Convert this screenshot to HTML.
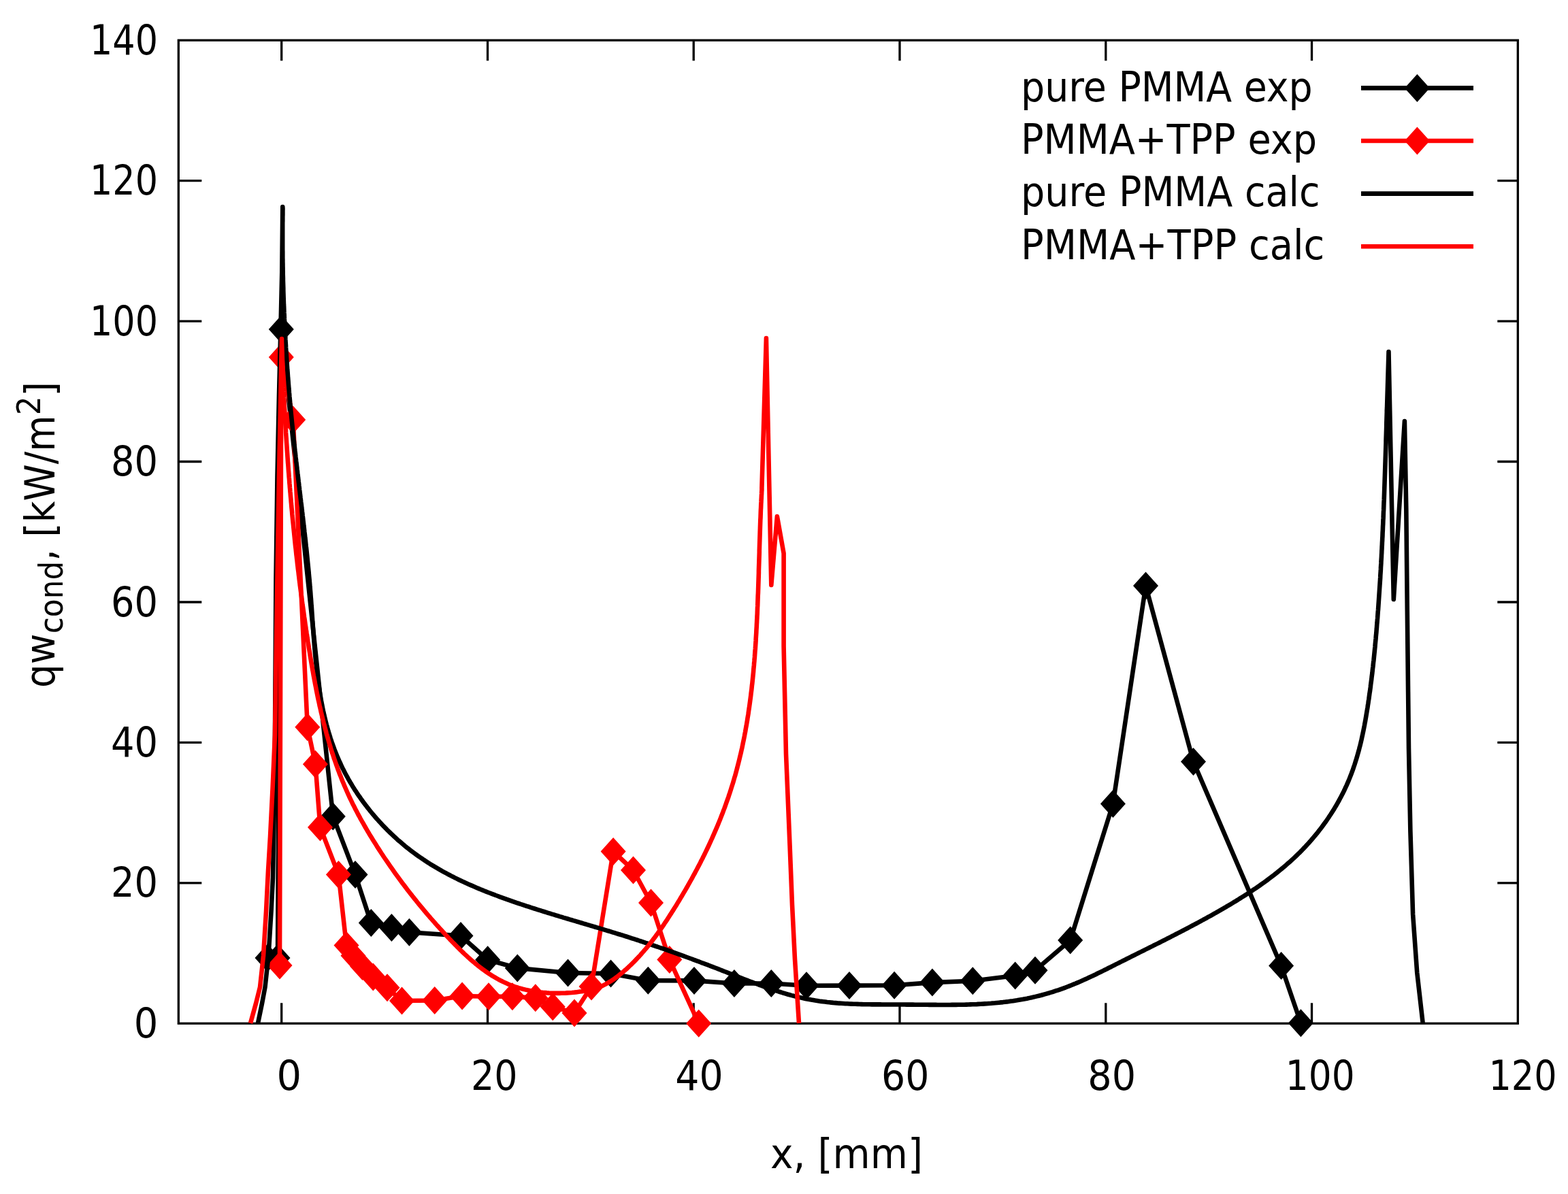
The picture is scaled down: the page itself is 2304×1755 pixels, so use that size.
<!DOCTYPE html>
<html><head><meta charset="utf-8"><title>qw cond vs x</title>
<style>html,body{margin:0;padding:0;background:#fff;overflow:hidden}svg{display:block}</style>
</head><body>
<svg width="2304" height="1755" viewBox="0 0 2304 1755">
<rect width="2304" height="1755" fill="#fff"/>
<path fill="none" stroke="#000" stroke-width="3.3" d="M413.7 1504.3v-30M413.7 59.2v30M716.5 1504.3v-30M716.5 59.2v30M1019.2 1504.3v-30M1019.2 59.2v30M1322 1504.3v-30M1322 59.2v30M1624.8 1504.3v-30M1624.8 59.2v30M1927.5 1504.3v-30M1927.5 59.2v30M262.3 1297.9h34M2230.3 1297.9h-30M262.3 1091.4h34M2230.3 1091.4h-30M262.3 885h34M2230.3 885h-30M262.3 678.5h34M2230.3 678.5h-30M262.3 472.1h34M2230.3 472.1h-30M262.3 265.6h34M2230.3 265.6h-30"/>
<rect x="262.3" y="59.2" width="1968" height="1445.1" fill="none" stroke="#000" stroke-width="3.3"/>
<g font-family="'DejaVu Sans','Liberation Sans',sans-serif" font-size="60" fill="#000"><text x="132" y="79.7" textLength="100" lengthAdjust="spacingAndGlyphs">140</text><text x="132" y="286.1" textLength="100" lengthAdjust="spacingAndGlyphs">120</text><text x="132" y="492.6" textLength="100" lengthAdjust="spacingAndGlyphs">100</text><text x="163" y="699" textLength="69" lengthAdjust="spacingAndGlyphs">80</text><text x="163" y="905.5" textLength="69" lengthAdjust="spacingAndGlyphs">60</text><text x="163" y="1111.9" textLength="69" lengthAdjust="spacingAndGlyphs">40</text><text x="163" y="1318.4" textLength="69" lengthAdjust="spacingAndGlyphs">20</text><text x="196.7" y="1524.8" textLength="35.6" lengthAdjust="spacingAndGlyphs">0</text><text x="406.4" y="1602" textLength="36.6" lengthAdjust="spacingAndGlyphs">0</text><text x="692" y="1602" textLength="68.5" lengthAdjust="spacingAndGlyphs">20</text><text x="992.3" y="1602" textLength="70.3" lengthAdjust="spacingAndGlyphs">40</text><text x="1295" y="1602" textLength="70.4" lengthAdjust="spacingAndGlyphs">60</text><text x="1598.3" y="1602" textLength="70.7" lengthAdjust="spacingAndGlyphs">80</text><text x="1888.8" y="1602" textLength="101.8" lengthAdjust="spacingAndGlyphs">100</text><text x="2187.4" y="1602" textLength="100.2" lengthAdjust="spacingAndGlyphs">120</text><text x="1132" y="1717" textLength="224" lengthAdjust="spacingAndGlyphs">x, [mm]</text><text transform="translate(80 1011) rotate(-90)" textLength="450" lengthAdjust="spacingAndGlyphs">qw<tspan font-size="48" dy="11.5">cond</tspan><tspan dy="-11.5">, [kW/m</tspan><tspan font-size="48" dy="-21.5">2</tspan><tspan dy="21.5">]</tspan></text><text x="1500" y="149.2" textLength="428.7" lengthAdjust="spacingAndGlyphs">pure PMMA exp</text><text x="1500" y="226.3" textLength="435" lengthAdjust="spacingAndGlyphs">PMMA+TPP exp</text><text x="1500" y="303.4" textLength="439.5" lengthAdjust="spacingAndGlyphs">pure PMMA calc</text><text x="1500" y="380.5" textLength="446.4" lengthAdjust="spacingAndGlyphs">PMMA+TPP calc</text></g>
<path fill="none" stroke="#000" stroke-width="6.6" d="M2000 129.4H2165M2000 284.6H2165"/>
<path fill="none" stroke="#ff0000" stroke-width="6.6" d="M2000 207H2165M2000 362.2H2165"/>
<path fill="#000000" d="M2082.4 108.9l18.5 20.5l-18.5 20.5l-18.5 -20.5z"/>
<path fill="#ff0000" d="M2082.4 186.5l18.5 20.5l-18.5 20.5l-18.5 -20.5z"/>
<g fill="none" stroke-width="6.6" stroke-linejoin="miter" stroke-miterlimit="3">
<polyline stroke="#000" points="393,1408 408,1408 413.3,484 489.3,1200 522,1285.4 545.3,1356.6 575.4,1363.4 601.4,1370.3 677,1375.5 716.6,1410.7 760.3,1422.9 834.5,1430 897.5,1431 952.3,1441.3 1020,1441.4 1078.9,1445.5 1133.3,1445.5 1185,1448.8 1248,1448.6 1314.1,1448.2 1369.9,1444.1 1429.3,1441.7 1491.7,1434 1521,1426.3 1572.7,1382 1635.4,1181.4 1683.5,861.1 1753.5,1119.5 1882.6,1419.6 1911.4,1503.8"/>
</g>
<path fill="#000000" d="M393 1387.5l18.5 20.5l-18.5 20.5l-18.5 -20.5zM408 1387.5l18.5 20.5l-18.5 20.5l-18.5 -20.5zM413.3 463.5l18.5 20.5l-18.5 20.5l-18.5 -20.5zM489.3 1179.5l18.5 20.5l-18.5 20.5l-18.5 -20.5zM522 1264.9l18.5 20.5l-18.5 20.5l-18.5 -20.5zM545.3 1336.1l18.5 20.5l-18.5 20.5l-18.5 -20.5zM575.4 1342.9l18.5 20.5l-18.5 20.5l-18.5 -20.5zM601.4 1349.8l18.5 20.5l-18.5 20.5l-18.5 -20.5zM677 1355l18.5 20.5l-18.5 20.5l-18.5 -20.5zM716.6 1390.2l18.5 20.5l-18.5 20.5l-18.5 -20.5zM760.3 1402.4l18.5 20.5l-18.5 20.5l-18.5 -20.5zM834.5 1409.5l18.5 20.5l-18.5 20.5l-18.5 -20.5zM897.5 1410.5l18.5 20.5l-18.5 20.5l-18.5 -20.5zM952.3 1420.8l18.5 20.5l-18.5 20.5l-18.5 -20.5zM1020 1420.9l18.5 20.5l-18.5 20.5l-18.5 -20.5zM1078.9 1425l18.5 20.5l-18.5 20.5l-18.5 -20.5zM1133.3 1425l18.5 20.5l-18.5 20.5l-18.5 -20.5zM1185 1428.3l18.5 20.5l-18.5 20.5l-18.5 -20.5zM1248 1428.1l18.5 20.5l-18.5 20.5l-18.5 -20.5zM1314.1 1427.7l18.5 20.5l-18.5 20.5l-18.5 -20.5zM1369.9 1423.6l18.5 20.5l-18.5 20.5l-18.5 -20.5zM1429.3 1421.2l18.5 20.5l-18.5 20.5l-18.5 -20.5zM1491.7 1413.5l18.5 20.5l-18.5 20.5l-18.5 -20.5zM1521 1405.8l18.5 20.5l-18.5 20.5l-18.5 -20.5zM1572.7 1361.5l18.5 20.5l-18.5 20.5l-18.5 -20.5zM1635.4 1160.9l18.5 20.5l-18.5 20.5l-18.5 -20.5zM1683.5 840.6l18.5 20.5l-18.5 20.5l-18.5 -20.5zM1753.5 1099l18.5 20.5l-18.5 20.5l-18.5 -20.5zM1882.6 1399.1l18.5 20.5l-18.5 20.5l-18.5 -20.5zM1911.4 1483.3l18.5 20.5l-18.5 20.5l-18.5 -20.5z"/>
<g fill="none" stroke-width="6.6" stroke-linejoin="miter" stroke-miterlimit="3">
<polyline stroke="#ff0000" points="411,1419 413.3,525 430.7,617 451.8,1068.8 463.4,1123.2 470.5,1216 497.4,1285.4 509,1389.4 519,1404.7 532.6,1420.4 548.3,1436 569,1451.7 590.5,1471 638.7,1470.5 679.1,1464 718,1464.8 752.9,1464.8 786.8,1466.8 812.2,1479.7 844,1489 869,1450 901.1,1251.5 930.5,1279 956.5,1327 983.8,1410.5 1026.7,1504.3"/>
</g>
<path fill="#ff0000" d="M411 1398.5l18.5 20.5l-18.5 20.5l-18.5 -20.5zM413.3 504.5l18.5 20.5l-18.5 20.5l-18.5 -20.5zM430.7 596.5l18.5 20.5l-18.5 20.5l-18.5 -20.5zM451.8 1048.3l18.5 20.5l-18.5 20.5l-18.5 -20.5zM463.4 1102.7l18.5 20.5l-18.5 20.5l-18.5 -20.5zM470.5 1195.5l18.5 20.5l-18.5 20.5l-18.5 -20.5zM497.4 1264.9l18.5 20.5l-18.5 20.5l-18.5 -20.5zM509 1368.9l18.5 20.5l-18.5 20.5l-18.5 -20.5zM519 1384.2l18.5 20.5l-18.5 20.5l-18.5 -20.5zM532.6 1399.9l18.5 20.5l-18.5 20.5l-18.5 -20.5zM548.3 1415.5l18.5 20.5l-18.5 20.5l-18.5 -20.5zM569 1431.2l18.5 20.5l-18.5 20.5l-18.5 -20.5zM590.5 1450.5l18.5 20.5l-18.5 20.5l-18.5 -20.5zM638.7 1450l18.5 20.5l-18.5 20.5l-18.5 -20.5zM679.1 1443.5l18.5 20.5l-18.5 20.5l-18.5 -20.5zM718 1444.3l18.5 20.5l-18.5 20.5l-18.5 -20.5zM752.9 1444.3l18.5 20.5l-18.5 20.5l-18.5 -20.5zM786.8 1446.3l18.5 20.5l-18.5 20.5l-18.5 -20.5zM812.2 1459.2l18.5 20.5l-18.5 20.5l-18.5 -20.5zM844 1468.5l18.5 20.5l-18.5 20.5l-18.5 -20.5zM869 1429.5l18.5 20.5l-18.5 20.5l-18.5 -20.5zM901.1 1231l18.5 20.5l-18.5 20.5l-18.5 -20.5zM930.5 1258.5l18.5 20.5l-18.5 20.5l-18.5 -20.5zM956.5 1306.5l18.5 20.5l-18.5 20.5l-18.5 -20.5zM983.8 1390l18.5 20.5l-18.5 20.5l-18.5 -20.5zM1026.7 1483.8l18.5 20.5l-18.5 20.5l-18.5 -20.5z"/>
<g fill="none" stroke-width="6.6" stroke-linejoin="round">
<polyline stroke="#000" points="379,1504 385,1475 389.5,1451 394.5,1405 398.5,1340 401,1290 403,1180 404,1080 405.5,850 407.5,700 410,580 412.5,480 414.3,400 415.3,304 415.5,307 415.4,310 415.4,313 415.4,316 415.3,319 415.3,322 415.3,324.9 415.2,327.9 415.2,330.9 415.2,333.9 415.2,336.9 415.2,339.9 415.2,342.9 415.2,345.9 415.2,348.9 415.2,351.8 415.2,354.8 415.2,357.8 415.2,360.8 415.2,363.8 415.2,366.8 415.3,369.8 415.3,372.8 415.3,375.8 415.3,378.8 415.4,381.8 415.4,384.8 415.5,387.8 415.5,390.8 415.6,393.8 415.6,396.8 415.7,399.8 415.7,402.8 415.8,405.8 415.9,408.8 415.9,411.8 416,414.8 416.1,417.8 416.2,420.8 416.3,423.8 416.3,426.8 416.4,429.8 416.5,432.8 416.6,435.8 416.7,438.8 416.8,441.8 416.9,444.8 417,447.8 417.2,450.8 417.3,453.8 417.4,456.8 417.5,459.9 417.7,462.9 417.8,465.9 417.9,468.9 418.1,471.9 418.2,474.9 418.3,477.9 418.5,480.9 418.6,483.9 418.8,486.9 419,489.9 419.1,492.9 419.3,495.9 419.4,498.9 419.6,501.9 419.8,504.9 420,507.9 420.1,510.9 420.3,513.9 420.5,516.9 420.7,519.9 420.9,522.9 421.1,525.9 421.3,528.9 421.5,531.9 421.7,534.9 421.9,537.9 422.1,540.9 422.3,543.9 422.6,546.9 422.8,549.9 423,552.9 423.2,555.9 423.5,558.9 423.7,561.9 423.9,564.9 424.2,567.9 424.4,570.9 424.7,573.8 424.9,576.8 425.2,579.8 425.4,582.8 425.7,585.8 426,588.8 426.2,591.8 426.5,594.8 426.8,597.8 427,600.7 427.3,603.7 427.6,606.7 427.9,609.7 428.2,612.7 428.5,615.7 428.8,618.6 429.1,621.6 429.4,624.6 429.7,627.6 430,630.6 430.3,633.5 430.6,636.5 430.9,639.5 431.2,642.4 431.5,645.4 431.9,648.4 432.2,651.4 432.5,654.3 432.9,657.3 433.2,660.3 433.5,663.2 433.9,666.2 434.2,669.2 434.5,672.1 434.9,675.1 435.2,678.1 435.6,681 435.9,684 436.3,687 436.6,689.9 437,692.9 437.3,695.9 437.7,698.8 438,701.8 438.4,704.8 438.7,707.7 439.1,710.7 439.4,713.7 439.8,716.6 440.1,719.6 440.5,722.6 440.8,725.5 441.2,728.5 441.5,731.4 441.9,734.4 442.2,737.4 442.6,740.3 443,743.3 443.3,746.3 443.7,749.2 444,752.2 444.4,755.2 444.7,758.1 445.1,761.1 445.4,764.1 445.7,767 446.1,770 446.4,773 446.8,776 447.1,778.9 447.4,781.9 447.8,784.9 448.1,787.9 448.4,790.8 448.8,793.8 449.1,796.8 449.4,799.8 449.7,802.7 450.1,805.7 450.4,808.7 450.7,811.7 451,814.7 451.3,817.7 451.6,820.6 451.9,823.6 452.2,826.6 452.5,829.6 452.8,832.6 453.1,835.6 453.4,838.6 453.7,841.6 453.9,844.6 454.2,847.6 454.5,850.6 454.8,853.6 455,856.6 455.3,859.6 455.5,862.6 455.8,865.6 456,868.6 456.3,871.6 456.5,874.6 456.7,877.6 457,880.6 457.2,883.7 457.4,886.7 457.6,889.7 457.9,892.7 458.1,895.7 458.3,898.8 458.5,901.8 458.7,904.8 458.9,907.8 459.1,910.8 459.3,913.9 459.6,916.9 459.8,919.9 460,922.9 460.2,925.9 460.4,929 460.7,932 460.9,935 461.1,938 461.4,941 461.6,944.1 461.8,947.1 462.1,950.1 462.3,953.1 462.6,956.1 462.9,959.1 463.1,962.1 463.4,965.1 463.7,968.1 464,971.1 464.3,974.1 464.6,977.1 464.9,980.1 465.3,983.1 465.6,986.1 466,989.1 466.3,992 466.7,995 467.1,998 467.5,1001 467.9,1003.9 468.3,1006.9 468.7,1009.8 469.2,1012.8 469.6,1015.8 470.1,1018.7 470.6,1021.6 471.1,1024.6 471.6,1027.5 472.1,1030.4 472.7,1033.4 473.3,1036.3 473.8,1039.2 474.4,1042.1 475,1045 475.7,1047.9 476.3,1050.8 477,1053.7 477.7,1056.5 478.4,1059.4 479.1,1062.3 479.8,1065.1 480.6,1068 481.4,1070.8 482.2,1073.7 483,1076.5 483.9,1079.3 484.8,1082.2 485.6,1085 486.6,1087.8 487.5,1090.6 488.5,1093.4 489.5,1096.2 490.5,1098.9 491.5,1101.7 492.6,1104.5 493.7,1107.2 494.8,1110 495.9,1112.7 497.1,1115.4 498.3,1118.1 499.5,1120.8 500.8,1123.5 502,1126.2 503.3,1128.9 504.7,1131.6 506,1134.2 507.4,1136.9 508.8,1139.5 510.3,1142.2 511.7,1144.8 513.2,1147.4 514.7,1150 516.3,1152.6 517.8,1155.2 519.4,1157.7 521,1160.3 522.7,1162.8 524.3,1165.3 526,1167.8 527.7,1170.3 529.5,1172.8 531.2,1175.3 533,1177.8 534.8,1180.2 536.6,1182.6 538.5,1185 540.3,1187.4 542.2,1189.8 544.1,1192.2 546,1194.5 548,1196.9 549.9,1199.2 551.9,1201.5 553.9,1203.8 556,1206 558,1208.3 560.1,1210.5 562.1,1212.7 564.2,1214.9 566.4,1217.1 568.5,1219.3 570.6,1221.4 572.8,1223.5 575,1225.6 577.2,1227.7 579.4,1229.8 581.7,1231.8 583.9,1233.9 586.2,1235.9 588.5,1237.8 590.8,1239.8 593.1,1241.7 595.4,1243.7 597.7,1245.6 600.1,1247.4 602.5,1249.3 604.8,1251.1 607.2,1252.9 609.6,1254.7 612.1,1256.5 614.5,1258.2 616.9,1259.9 619.4,1261.6 621.9,1263.3 624.4,1264.9 626.9,1266.6 629.4,1268.2 631.9,1269.8 634.4,1271.3 637,1272.9 639.5,1274.4 642.1,1275.9 644.6,1277.4 647.2,1278.9 649.8,1280.4 652.4,1281.8 655,1283.2 657.6,1284.6 660.3,1286 662.9,1287.4 665.6,1288.7 668.2,1290.1 670.9,1291.4 673.5,1292.7 676.2,1294 678.9,1295.3 681.6,1296.5 684.3,1297.8 687,1299 689.7,1300.2 692.5,1301.4 695.2,1302.6 697.9,1303.8 700.7,1305 703.4,1306.1 706.2,1307.3 709,1308.4 711.7,1309.5 714.5,1310.6 717.3,1311.7 720.1,1312.8 722.9,1313.9 725.7,1314.9 728.5,1316 731.3,1317 734.1,1318.1 736.9,1319.1 739.7,1320.1 742.5,1321.1 745.3,1322.1 748.2,1323.1 751,1324.1 753.8,1325.1 756.7,1326.1 759.5,1327.1 762.3,1328 765.2,1329 768,1329.9 770.9,1330.9 773.7,1331.8 776.6,1332.7 779.4,1333.7 782.3,1334.6 785.2,1335.5 788,1336.4 790.9,1337.3 793.7,1338.2 796.6,1339.1 799.5,1340 802.4,1340.9 805.2,1341.8 808.1,1342.7 811,1343.6 813.9,1344.4 816.7,1345.3 819.6,1346.2 822.5,1347.1 825.4,1347.9 828.3,1348.8 831.1,1349.6 834,1350.5 836.9,1351.4 839.8,1352.2 842.7,1353.1 845.6,1353.9 848.4,1354.8 851.3,1355.6 854.2,1356.5 857.1,1357.4 860,1358.2 862.9,1359.1 865.7,1359.9 868.6,1360.8 871.5,1361.6 874.4,1362.5 877.3,1363.4 880.1,1364.2 883,1365.1 885.9,1365.9 888.8,1366.8 891.6,1367.7 894.5,1368.5 897.4,1369.4 900.2,1370.3 903.1,1371.2 906,1372.1 908.8,1373 911.7,1373.8 914.6,1374.7 917.4,1375.6 920.3,1376.5 923.1,1377.4 926,1378.4 928.8,1379.3 931.7,1380.2 934.5,1381.1 937.4,1382 940.2,1383 943,1383.9 945.9,1384.8 948.7,1385.8 951.5,1386.7 954.4,1387.7 957.2,1388.6 960,1389.6 962.9,1390.6 965.7,1391.5 968.5,1392.5 971.3,1393.5 974.2,1394.4 977,1395.4 979.8,1396.4 982.6,1397.4 985.4,1398.4 988.3,1399.4 991.1,1400.4 993.9,1401.4 996.7,1402.4 999.5,1403.4 1002.3,1404.4 1005.1,1405.4 1008,1406.5 1010.8,1407.5 1013.6,1408.5 1016.4,1409.5 1019.2,1410.6 1022,1411.6 1024.8,1412.7 1027.6,1413.7 1030.4,1414.8 1033.2,1415.8 1036,1416.9 1038.9,1417.9 1041.7,1419 1044.5,1420.1 1047.3,1421.1 1050.1,1422.2 1052.9,1423.3 1055.7,1424.4 1058.5,1425.5 1061.3,1426.6 1064.1,1427.7 1066.9,1428.8 1069.7,1429.9 1072.5,1431 1075.3,1432.1 1078.2,1433.2 1081,1434.3 1083.8,1435.4 1086.6,1436.5 1089.4,1437.6 1092.2,1438.7 1095,1439.8 1097.8,1440.9 1100.7,1442 1103.5,1443 1106.3,1444.1 1109.1,1445.2 1112,1446.2 1114.8,1447.3 1117.6,1448.3 1120.4,1449.4 1123.3,1450.4 1126.1,1451.4 1128.9,1452.4 1131.8,1453.4 1134.6,1454.3 1137.5,1455.3 1140.3,1456.2 1143.2,1457.1 1146,1458 1148.9,1458.9 1151.7,1459.8 1154.6,1460.6 1157.4,1461.5 1160.3,1462.3 1163.2,1463.1 1166.1,1463.8 1168.9,1464.6 1171.8,1465.3 1174.7,1466 1177.6,1466.6 1180.5,1467.3 1183.4,1467.9 1186.3,1468.5 1189.2,1469 1192.1,1469.6 1195,1470.1 1197.9,1470.6 1200.8,1471 1203.8,1471.5 1206.7,1471.9 1209.6,1472.2 1212.6,1472.6 1215.5,1473 1218.5,1473.3 1221.4,1473.6 1224.4,1473.9 1227.3,1474.1 1230.3,1474.4 1233.2,1474.6 1236.2,1474.8 1239.2,1475 1242.1,1475.2 1245.1,1475.3 1248.1,1475.5 1251,1475.6 1254,1475.7 1257,1475.8 1260,1475.9 1263,1476 1266,1476.1 1269,1476.2 1272,1476.2 1275,1476.3 1278,1476.3 1281,1476.4 1284,1476.4 1287,1476.4 1290,1476.4 1293,1476.4 1296,1476.5 1299,1476.5 1302,1476.5 1305,1476.5 1308.1,1476.5 1311.1,1476.5 1314.1,1476.5 1317.1,1476.5 1320.1,1476.5 1323.2,1476.5 1326.2,1476.5 1329.2,1476.5 1332.3,1476.6 1335.3,1476.6 1338.3,1476.6 1341.3,1476.6 1344.4,1476.7 1347.4,1476.7 1350.4,1476.7 1353.5,1476.7 1356.5,1476.8 1359.5,1476.8 1362.6,1476.8 1365.6,1476.9 1368.6,1476.9 1371.6,1476.9 1374.7,1476.9 1377.7,1477 1380.7,1477 1383.8,1477 1386.8,1477 1389.8,1477 1392.8,1477 1395.9,1477 1398.9,1476.9 1401.9,1476.9 1404.9,1476.9 1408,1476.8 1411,1476.8 1414,1476.7 1417,1476.7 1420,1476.6 1423,1476.5 1426,1476.4 1429,1476.3 1432,1476.2 1435,1476.1 1438,1475.9 1441,1475.8 1444,1475.6 1447,1475.4 1450,1475.2 1453,1475 1456,1474.8 1458.9,1474.5 1461.9,1474.3 1464.9,1474 1467.9,1473.7 1470.8,1473.4 1473.8,1473.1 1476.7,1472.7 1479.7,1472.4 1482.7,1472 1485.6,1471.6 1488.5,1471.2 1491.5,1470.7 1494.4,1470.3 1497.3,1469.8 1500.3,1469.3 1503.2,1468.8 1506.1,1468.2 1509,1467.7 1511.9,1467.1 1514.8,1466.4 1517.7,1465.8 1520.6,1465.1 1523.5,1464.4 1526.4,1463.7 1529.2,1463 1532.1,1462.2 1535,1461.4 1537.8,1460.6 1540.7,1459.8 1543.5,1458.9 1546.4,1458.1 1549.2,1457.1 1552,1456.2 1554.9,1455.3 1557.7,1454.3 1560.5,1453.3 1563.3,1452.3 1566.1,1451.3 1568.9,1450.2 1571.7,1449.1 1574.5,1448 1577.2,1446.9 1580,1445.8 1582.8,1444.6 1585.5,1443.4 1588.3,1442.2 1591,1441 1593.7,1439.8 1596.5,1438.6 1599.2,1437.3 1601.9,1436 1604.7,1434.8 1607.4,1433.5 1610.1,1432.2 1612.8,1430.8 1615.5,1429.5 1618.2,1428.2 1620.9,1426.9 1623.6,1425.5 1626.3,1424.2 1629,1422.8 1631.7,1421.5 1634.4,1420.1 1637.1,1418.8 1639.7,1417.4 1642.4,1416.1 1645.1,1414.7 1647.8,1413.4 1650.5,1412 1653.2,1410.7 1655.9,1409.3 1658.6,1408 1661.3,1406.6 1663.9,1405.3 1666.6,1404 1669.3,1402.6 1672,1401.3 1674.7,1399.9 1677.4,1398.6 1680.1,1397.3 1682.7,1395.9 1685.4,1394.6 1688.1,1393.3 1690.8,1391.9 1693.5,1390.6 1696.1,1389.2 1698.8,1387.9 1701.5,1386.6 1704.2,1385.2 1706.8,1383.9 1709.5,1382.5 1712.2,1381.2 1714.8,1379.8 1717.5,1378.5 1720.2,1377.1 1722.8,1375.7 1725.5,1374.4 1728.1,1373 1730.8,1371.6 1733.5,1370.3 1736.1,1368.9 1738.8,1367.5 1741.4,1366.1 1744.1,1364.7 1746.7,1363.3 1749.4,1361.9 1752,1360.5 1754.6,1359.1 1757.3,1357.7 1759.9,1356.3 1762.6,1354.9 1765.2,1353.5 1767.8,1352 1770.4,1350.6 1773.1,1349.2 1775.7,1347.7 1778.3,1346.3 1780.9,1344.8 1783.5,1343.3 1786.2,1341.9 1788.8,1340.4 1791.4,1338.9 1794,1337.4 1796.6,1335.9 1799.2,1334.4 1801.8,1332.9 1804.3,1331.3 1806.9,1329.8 1809.5,1328.3 1812.1,1326.7 1814.7,1325.2 1817.2,1323.6 1819.8,1322 1822.3,1320.4 1824.9,1318.8 1827.4,1317.2 1830,1315.6 1832.5,1314 1835,1312.3 1837.5,1310.7 1840,1309 1842.5,1307.3 1845,1305.7 1847.5,1304 1850,1302.3 1852.4,1300.5 1854.9,1298.8 1857.3,1297.1 1859.7,1295.3 1862.2,1293.5 1864.6,1291.7 1867,1289.9 1869.3,1288.1 1871.7,1286.3 1874.1,1284.4 1876.4,1282.6 1878.8,1280.7 1881.1,1278.8 1883.4,1276.9 1885.7,1275 1888,1273.1 1890.2,1271.1 1892.5,1269.1 1894.7,1267.2 1897,1265.2 1899.2,1263.1 1901.4,1261.1 1903.5,1259.1 1905.7,1257 1907.8,1254.9 1910,1252.8 1912.1,1250.7 1914.2,1248.5 1916.2,1246.4 1918.3,1244.2 1920.3,1242 1922.4,1239.8 1924.4,1237.5 1926.3,1235.3 1928.3,1233 1930.3,1230.7 1932.2,1228.4 1934.1,1226.1 1936,1223.8 1937.8,1221.4 1939.7,1219 1941.5,1216.7 1943.3,1214.3 1945.1,1211.8 1946.8,1209.4 1948.6,1207 1950.3,1204.5 1952,1202 1953.6,1199.5 1955.3,1197 1956.9,1194.5 1958.5,1192 1960.1,1189.4 1961.6,1186.9 1963.2,1184.3 1964.7,1181.7 1966.1,1179.1 1967.6,1176.5 1969,1173.8 1970.4,1171.2 1971.8,1168.5 1973.1,1165.9 1974.5,1163.2 1975.8,1160.5 1977,1157.8 1978.3,1155.1 1979.5,1152.4 1980.7,1149.6 1981.9,1146.9 1983,1144.1 1984.1,1141.3 1985.2,1138.6 1986.2,1135.8 1987.3,1133 1988.3,1130.2 1989.2,1127.3 1990.2,1124.5 1991.1,1121.7 1992,1118.8 1992.9,1116 1993.8,1113.1 1994.6,1110.2 1995.4,1107.4 1996.2,1104.5 1997,1101.6 1997.7,1098.7 1998.5,1095.8 1999.2,1092.9 1999.9,1089.9 2000.6,1087 2001.2,1084.1 2001.9,1081.1 2002.5,1078.2 2003.1,1075.3 2003.7,1072.3 2004.3,1069.4 2004.9,1066.4 2005.4,1063.4 2006,1060.5 2006.5,1057.5 2007,1054.6 2007.5,1051.6 2008,1048.6 2008.5,1045.6 2009,1042.7 2009.5,1039.7 2009.9,1036.7 2010.4,1033.7 2010.8,1030.7 2011.3,1027.8 2011.7,1024.8 2012.1,1021.8 2012.5,1018.8 2013,1015.9 2013.4,1012.9 2013.8,1009.9 2014.1,1006.9 2014.5,1003.9 2014.9,1001 2015.3,998 2015.6,995 2016,992 2016.4,989 2016.7,986.1 2017,983.1 2017.4,980.1 2017.7,977.1 2018,974.1 2018.4,971.1 2018.7,968.2 2019,965.2 2019.3,962.2 2019.6,959.2 2019.9,956.2 2020.2,953.2 2020.5,950.3 2020.7,947.3 2021,944.3 2021.3,941.3 2021.6,938.3 2021.8,935.3 2022.1,932.4 2022.4,929.4 2022.6,926.4 2022.9,923.4 2023.1,920.4 2023.3,917.4 2023.6,914.4 2023.8,911.5 2024.1,908.5 2024.3,905.5 2024.5,902.5 2024.7,899.5 2025,896.5 2025.2,893.5 2025.4,890.5 2025.6,887.6 2025.8,884.6 2026,881.6 2026.2,878.6 2026.4,875.6 2026.6,872.6 2026.8,869.6 2027,866.6 2027.2,863.6 2027.4,860.6 2027.6,857.7 2027.8,854.7 2028,851.7 2028.2,848.7 2028.3,845.7 2028.5,842.7 2028.7,839.7 2028.9,836.7 2029,833.7 2029.2,830.7 2029.4,827.7 2029.5,824.7 2029.7,821.8 2029.9,818.8 2030,815.8 2030.2,812.8 2030.3,809.8 2030.5,806.8 2030.6,803.8 2030.8,800.8 2030.9,797.8 2031.1,794.8 2031.2,791.8 2031.4,788.8 2031.5,785.8 2031.6,782.8 2031.8,779.8 2031.9,776.8 2032,773.8 2032.2,770.8 2032.3,767.8 2032.4,764.9 2032.6,761.9 2032.7,758.9 2032.8,755.9 2032.9,752.9 2033.1,749.9 2033.2,746.9 2033.3,743.9 2033.4,740.9 2033.5,737.9 2033.7,734.9 2033.8,731.9 2033.9,728.9 2034,725.9 2034.1,722.9 2034.2,719.9 2034.3,716.9 2034.4,713.9 2034.5,710.9 2034.6,707.9 2034.7,704.9 2034.8,701.9 2034.9,698.9 2035,695.9 2035.1,692.9 2035.2,689.9 2035.3,686.9 2035.4,683.9 2035.5,680.9 2035.6,677.9 2035.7,674.9 2035.8,671.9 2035.9,668.9 2036,665.9 2036.1,662.9 2036.2,660 2036.3,657 2036.4,654 2036.5,651 2036.5,648 2036.6,645 2036.7,642 2036.8,639 2036.9,636 2037,633 2037.1,630 2037.2,627 2037.2,624 2037.3,621 2037.4,618 2037.5,615 2037.6,612 2037.7,609 2037.8,606 2037.8,603 2038,600 2040.5,517 2047.8,881 2063.9,619 2066.3,748.7 2067.8,897.5 2070,1100 2072.4,1222 2076.1,1343.9 2082.2,1429.3 2090.7,1504"/>
<polyline stroke="#ff0000" points="368,1504 376,1475 382,1451 387,1405 391,1340 394,1280 397,1230 400.5,1160 404,1080 407.5,850 410,700 412,600 414,498 414,501 414.1,504 414.2,507 414.3,510 414.4,513 414.5,516 414.6,519 414.7,522 414.8,525 414.9,528 415,531 415.1,534 415.2,536.9 415.4,539.9 415.5,542.9 415.6,545.9 415.7,548.9 415.8,551.9 416,554.9 416.1,557.9 416.2,560.9 416.4,563.9 416.5,566.9 416.6,569.9 416.8,572.9 416.9,575.9 417.1,578.9 417.2,581.9 417.3,584.9 417.5,587.8 417.6,590.8 417.8,593.8 417.9,596.8 418.1,599.8 418.3,602.8 418.4,605.8 418.6,608.8 418.8,611.8 418.9,614.8 419.1,617.8 419.3,620.8 419.4,623.8 419.6,626.8 419.8,629.8 420,632.7 420.1,635.7 420.3,638.7 420.5,641.7 420.7,644.7 420.9,647.7 421.1,650.7 421.3,653.7 421.5,656.7 421.7,659.7 421.9,662.7 422.1,665.7 422.3,668.6 422.5,671.6 422.7,674.6 422.9,677.6 423.1,680.6 423.4,683.6 423.6,686.6 423.8,689.6 424,692.6 424.3,695.6 424.5,698.6 424.7,701.5 425,704.5 425.2,707.5 425.4,710.5 425.7,713.5 425.9,716.5 426.2,719.5 426.4,722.5 426.7,725.4 426.9,728.4 427.2,731.4 427.5,734.4 427.7,737.4 428,740.4 428.2,743.4 428.5,746.4 428.8,749.3 429.1,752.3 429.3,755.3 429.6,758.3 429.9,761.3 430.2,764.3 430.5,767.3 430.8,770.2 431.1,773.2 431.4,776.2 431.7,779.2 432,782.2 432.3,785.2 432.6,788.1 432.9,791.1 433.2,794.1 433.5,797.1 433.8,800.1 434.1,803.1 434.5,806 434.8,809 435.1,812 435.4,815 435.8,818 436.1,820.9 436.5,823.9 436.8,826.9 437.1,829.9 437.5,832.9 437.8,835.8 438.2,838.8 438.6,841.8 438.9,844.8 439.3,847.7 439.6,850.7 440,853.7 440.4,856.7 440.7,859.7 441.1,862.6 441.5,865.6 441.9,868.6 442.3,871.6 442.7,874.5 443.1,877.5 443.4,880.5 443.8,883.4 444.2,886.4 444.6,889.4 445.1,892.4 445.5,895.3 445.9,898.3 446.3,901.3 446.7,904.2 447.1,907.2 447.6,910.2 448,913.2 448.4,916.1 448.8,919.1 449.3,922.1 449.7,925 450.2,928 450.6,931 451.1,933.9 451.5,936.9 452,939.9 452.4,942.8 452.9,945.8 453.4,948.7 453.8,951.7 454.3,954.7 454.8,957.6 455.3,960.6 455.7,963.6 456.2,966.5 456.7,969.5 457.2,972.4 457.7,975.4 458.2,978.4 458.7,981.3 459.2,984.3 459.8,987.2 460.3,990.2 460.8,993.1 461.4,996.1 461.9,999 462.5,1002 463,1004.9 463.6,1007.8 464.2,1010.8 464.7,1013.7 465.3,1016.7 465.9,1019.6 466.5,1022.5 467.1,1025.5 467.7,1028.4 468.4,1031.3 469,1034.2 469.6,1037.2 470.3,1040.1 471,1043 471.6,1045.9 472.3,1048.8 473,1051.7 473.7,1054.6 474.4,1057.5 475.1,1060.4 475.8,1063.3 476.6,1066.2 477.3,1069.1 478.1,1072 478.9,1074.9 479.6,1077.8 480.4,1080.6 481.3,1083.5 482.1,1086.4 482.9,1089.2 483.7,1092.1 484.6,1095 485.5,1097.8 486.3,1100.7 487.2,1103.5 488.1,1106.4 489.1,1109.2 490,1112 490.9,1114.9 491.9,1117.7 492.9,1120.5 493.9,1123.3 494.9,1126.2 495.9,1129 496.9,1131.8 498,1134.6 499,1137.4 500.1,1140.1 501.2,1142.9 502.3,1145.7 503.4,1148.5 504.6,1151.3 505.7,1154 506.9,1156.8 508.1,1159.5 509.3,1162.3 510.5,1165 511.8,1167.8 513,1170.5 514.3,1173.2 515.6,1175.9 516.9,1178.6 518.2,1181.4 519.6,1184.1 521,1186.8 522.3,1189.4 523.7,1192.1 525.1,1194.8 526.5,1197.5 528,1200.1 529.4,1202.8 530.9,1205.5 532.4,1208.1 533.9,1210.7 535.4,1213.4 536.9,1216 538.4,1218.6 539.9,1221.2 541.5,1223.8 543,1226.4 544.6,1229 546.2,1231.6 547.8,1234.2 549.4,1236.7 551,1239.3 552.6,1241.8 554.2,1244.4 555.8,1246.9 557.4,1249.4 559.1,1252 560.7,1254.5 562.4,1257 564,1259.5 565.7,1262 567.4,1264.4 569.1,1266.9 570.8,1269.4 572.5,1271.8 574.2,1274.3 575.9,1276.7 577.6,1279.2 579.3,1281.6 581,1284 582.8,1286.4 584.5,1288.8 586.3,1291.2 588,1293.6 589.8,1296 591.6,1298.4 593.4,1300.8 595.2,1303.1 597,1305.5 598.8,1307.9 600.6,1310.2 602.4,1312.6 604.3,1314.9 606.1,1317.2 608,1319.6 609.8,1321.9 611.7,1324.2 613.5,1326.5 615.4,1328.8 617.3,1331.1 619.2,1333.4 621.1,1335.7 623,1338 625,1340.3 626.9,1342.6 628.8,1344.8 630.8,1347.1 632.7,1349.4 634.7,1351.6 636.7,1353.9 638.7,1356.1 640.6,1358.4 642.6,1360.6 644.7,1362.8 646.7,1365.1 648.7,1367.3 650.7,1369.5 652.8,1371.8 654.8,1374 656.9,1376.2 659,1378.4 661,1380.6 663.1,1382.8 665.2,1385 667.4,1387.2 669.5,1389.3 671.6,1391.5 673.8,1393.6 675.9,1395.8 678.1,1397.9 680.3,1400 682.5,1402.1 684.7,1404.1 686.9,1406.2 689.2,1408.2 691.4,1410.2 693.7,1412.2 696,1414.1 698.3,1416.1 700.6,1418 702.9,1419.8 705.3,1421.7 707.7,1423.5 710.1,1425.3 712.5,1427 714.9,1428.7 717.4,1430.4 719.8,1432 722.3,1433.6 724.8,1435.2 727.4,1436.7 729.9,1438.2 732.5,1439.6 735.1,1441 737.7,1442.3 740.4,1443.6 743,1444.8 745.7,1446 748.4,1447.2 751.2,1448.3 753.9,1449.3 756.7,1450.3 759.5,1451.2 762.4,1452.1 765.2,1452.9 768.1,1453.7 771,1454.4 773.9,1455.1 776.8,1455.7 779.8,1456.3 782.7,1456.9 785.7,1457.4 788.7,1457.8 791.7,1458.2 794.7,1458.6 797.7,1458.9 800.7,1459.1 803.7,1459.4 806.8,1459.6 809.8,1459.7 812.8,1459.8 815.9,1459.9 818.9,1459.9 822,1459.9 825,1459.8 828,1459.7 831.1,1459.6 834.1,1459.4 837.1,1459.2 840.2,1459 843.2,1458.7 846.2,1458.4 849.2,1458 852.2,1457.6 855.1,1457.2 858.1,1456.7 861,1456.2 863.9,1455.6 866.8,1455 869.7,1454.2 872.5,1453.5 875.4,1452.6 878.1,1451.7 880.9,1450.7 883.6,1449.6 886.3,1448.4 888.9,1447.1 891.5,1445.7 894.1,1444.2 896.6,1442.7 899.1,1441.1 901.6,1439.4 904,1437.7 906.4,1435.9 908.8,1434.1 911.2,1432.2 913.5,1430.3 915.8,1428.4 918,1426.4 920.3,1424.5 922.5,1422.5 924.6,1420.4 926.8,1418.4 928.9,1416.3 931.1,1414.2 933.1,1412.1 935.2,1409.9 937.2,1407.8 939.3,1405.6 941.3,1403.4 943.2,1401.1 945.2,1398.9 947.1,1396.6 949.1,1394.4 951,1392.1 952.9,1389.7 954.7,1387.4 956.6,1385.1 958.4,1382.7 960.2,1380.3 962,1377.9 963.8,1375.5 965.6,1373.1 967.3,1370.7 969,1368.2 970.8,1365.7 972.5,1363.3 974.2,1360.8 975.9,1358.3 977.5,1355.8 979.2,1353.3 980.9,1350.8 982.5,1348.3 984.1,1345.7 985.8,1343.2 987.4,1340.6 989,1338.1 990.6,1335.5 992.2,1333 993.8,1330.4 995.3,1327.9 996.9,1325.3 998.5,1322.7 1000,1320.1 1001.6,1317.5 1003.1,1314.9 1004.6,1312.3 1006.2,1309.7 1007.7,1307.1 1009.2,1304.5 1010.7,1301.9 1012.1,1299.3 1013.6,1296.7 1015.1,1294 1016.6,1291.4 1018,1288.8 1019.4,1286.1 1020.9,1283.5 1022.3,1280.8 1023.7,1278.2 1025.1,1275.5 1026.5,1272.9 1027.9,1270.2 1029.3,1267.5 1030.6,1264.8 1032,1262.2 1033.3,1259.5 1034.7,1256.8 1036,1254.1 1037.3,1251.4 1038.6,1248.7 1039.9,1246 1041.2,1243.3 1042.4,1240.6 1043.7,1237.8 1044.9,1235.1 1046.2,1232.4 1047.4,1229.6 1048.6,1226.9 1049.8,1224.2 1051,1221.4 1052.2,1218.7 1053.4,1215.9 1054.5,1213.2 1055.7,1210.4 1056.8,1207.6 1057.9,1204.9 1059,1202.1 1060.1,1199.3 1061.2,1196.5 1062.3,1193.7 1063.3,1190.9 1064.4,1188.1 1065.4,1185.3 1066.4,1182.5 1067.4,1179.7 1068.4,1176.9 1069.4,1174.1 1070.4,1171.3 1071.3,1168.4 1072.3,1165.6 1073.2,1162.8 1074.1,1160 1075,1157.1 1075.9,1154.3 1076.8,1151.4 1077.7,1148.6 1078.5,1145.7 1079.3,1142.8 1080.2,1140 1081,1137.1 1081.8,1134.2 1082.5,1131.4 1083.3,1128.5 1084,1125.6 1084.8,1122.7 1085.5,1119.8 1086.2,1116.9 1086.9,1114 1087.6,1111.1 1088.3,1108.2 1089,1105.3 1089.6,1102.4 1090.3,1099.5 1090.9,1096.6 1091.5,1093.7 1092.1,1090.7 1092.7,1087.8 1093.3,1084.9 1093.9,1081.9 1094.4,1079 1095,1076.1 1095.5,1073.1 1096,1070.2 1096.6,1067.2 1097.1,1064.3 1097.6,1061.3 1098.1,1058.4 1098.5,1055.4 1099,1052.5 1099.5,1049.5 1099.9,1046.5 1100.3,1043.6 1100.8,1040.6 1101.2,1037.6 1101.6,1034.7 1102,1031.7 1102.4,1028.7 1102.8,1025.7 1103.2,1022.8 1103.5,1019.8 1103.9,1016.8 1104.3,1013.8 1104.6,1010.8 1104.9,1007.8 1105.3,1004.8 1105.6,1001.8 1105.9,998.8 1106.2,995.8 1106.5,992.9 1106.8,989.9 1107.1,986.9 1107.3,983.9 1107.6,980.8 1107.9,977.8 1108.1,974.8 1108.4,971.8 1108.6,968.8 1108.9,965.8 1109.1,962.8 1109.3,959.8 1109.5,956.8 1109.8,953.8 1110,950.8 1110.2,947.7 1110.4,944.7 1110.6,941.7 1110.7,938.7 1110.9,935.7 1111.1,932.7 1111.3,929.6 1111.4,926.6 1111.6,923.6 1111.8,920.6 1111.9,917.6 1112.1,914.5 1112.2,911.5 1112.4,908.5 1112.5,905.5 1112.7,902.5 1112.8,899.4 1112.9,896.4 1113,893.4 1113.2,890.4 1113.3,887.4 1113.4,884.3 1113.5,881.3 1113.6,878.3 1113.7,875.3 1113.9,872.3 1114,869.3 1114.1,866.2 1114.2,863.2 1114.3,860.2 1114.4,857.2 1114.5,854.2 1114.6,851.2 1114.7,848.2 1114.8,845.1 1114.9,842.1 1114.9,839.1 1115,836.1 1115.1,833.1 1115.2,830.1 1115.3,827.1 1115.4,824.1 1115.5,821.1 1115.6,818.1 1115.7,815.1 1115.8,812.1 1115.8,809.1 1115.9,806.1 1116,803.1 1116.1,800.1 1116.2,797.1 1116.3,794.1 1116.4,791.1 1116.5,788.1 1116.6,785.1 1116.7,782.2 1116.8,779.2 1116.9,776.2 1117,773.2 1117.1,770.3 1117.2,767.3 1117.3,764.3 1117.5,761.3 1117.6,758.4 1117.7,755.4 1117.8,752.4 1117.9,749.5 1118.1,746.5 1118.2,743.6 1118.3,740.6 1118.5,737.7 1118.6,734.7 1118.8,731.8 1118.9,728.8 1119.1,725.9 1119.2,723 1119.4,720 1119.4,717 1125.9,497 1133.3,860 1141.9,759 1151.6,813.4 1151.6,950 1155,1108.4 1160.6,1244 1164,1330 1168,1410 1174,1504"/>
</g>
</svg>
</body></html>
